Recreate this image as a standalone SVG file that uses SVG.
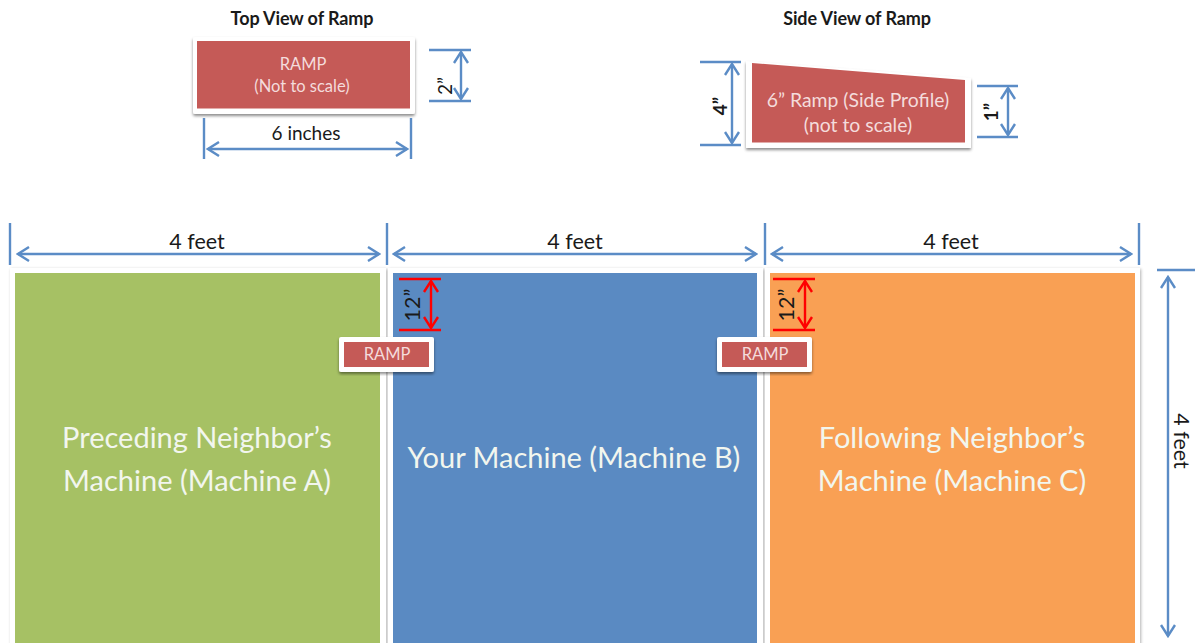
<svg xmlns="http://www.w3.org/2000/svg" width="1195" height="643" viewBox="0 0 1195 643">
<style>
text{font-family:Lato,"Open Sans","Liberation Sans",sans-serif;text-anchor:middle}
.t{font-size:18px;font-weight:700;fill:#1a1a1a;letter-spacing:-.1px}
.w{fill:#f4dcdc;font-size:16.500px}
.w2{fill:#f4dcdc;font-size:19.400px}
.m{fill:#f2f6ee;font-size:29px}
.d{fill:#1a1a1a;font-size:19px}
.e{fill:#1a1a1a;font-size:21.500px}
.b{font-weight:700}
.f{fill:#fff;filter:url(#s)}
.g{fill:#fff;filter:url(#l)}
.r{fill:#c55a57}
.c line,.c path{fill:none;stroke:#5b8cc6;stroke-width:2.4}
.c .red line,.c .red path{stroke:#f00}
</style>
<defs>
<filter id="s" x="-10%" y="-10%" width="120%" height="120%"><feDropShadow dx="0" dy="2" stdDeviation="1.800" flood-color="#000" flood-opacity=".45"/></filter>
<filter id="l" x="-5%" y="-5%" width="110%" height="110%"><feDropShadow dx="1" dy="1" stdDeviation="1.500" flood-color="#000" flood-opacity=".3"/></filter>
<marker id="a" viewBox="0 0 16 16" refX="14" refY="8" markerWidth="16" markerHeight="16" markerUnits="userSpaceOnUse" orient="auto-start-reverse"><path d="M3 1L14 8L3 15" fill="none" stroke="#5b8cc6" stroke-width="2.4"/></marker>
<marker id="ar" viewBox="0 0 16 16" refX="14" refY="8" markerWidth="16" markerHeight="16" markerUnits="userSpaceOnUse" orient="auto-start-reverse"><path d="M3 1L14 8L3 15" fill="none" stroke="#f00" stroke-width="2.4"/></marker>
</defs>
<rect width="1195" height="643" fill="#fff"/>
<g id="machine-a"><rect class="g" x="10" y="268" width="376" height="380"/><rect x="15" y="273" width="365" height="370" fill="#a6c164"/>
<text class="m" x="197" y="448">Preceding Neighbor’s</text><text class="m" x="197" y="491">Machine (Machine A)</text></g>
<g id="machine-b"><rect class="g" x="388" y="268" width="375" height="380"/><rect x="393" y="273" width="364" height="370" fill="#5a8ac2"/>
<text class="m" x="574" y="468">Your Machine (Machine B)</text></g>
<g id="machine-c"><rect class="g" x="765" y="268" width="375" height="380"/><rect x="770" y="273" width="365" height="370" fill="#f9a054"/>
<text class="m" x="952" y="448">Following Neighbor’s</text><text class="m" x="952" y="491">Machine (Machine C)</text></g>
<g id="ramp-top"><text class="t" x="302" y="25">Top View of Ramp</text><rect class="f" x="193" y="37" width="222" height="77" rx="2"/><rect class="r" x="197" y="41" width="213" height="67.500"/>
<text class="w" x="303" y="70">RAMP</text><text class="w" x="302" y="92">(Not to scale)</text></g>
<g id="ramp-side"><text class="t" x="857" y="25">Side View of Ramp</text><path class="f" d="M746 61L971 78V148H746Z"/><path class="r" d="M752 63L965 80V142.500H752Z"/>
<text class="w2" x="858" y="107">6” Ramp (Side Profile)</text><text class="w2" x="858" y="132">(not to scale)</text></g>
<g id="ramp-1"><rect class="f" x="339" y="337" width="95" height="35" rx="2"/><rect class="r" x="344" y="342" width="85" height="25"/><text class="w" x="387" y="360">RAMP</text></g>
<g id="ramp-2"><rect class="f" x="717" y="337" width="95" height="35" rx="2"/><rect class="r" x="722" y="342" width="85" height="25"/><text class="w" x="765" y="360">RAMP</text></g>
<g id="connectors" class="c">
<line x1="204" y1="118" x2="204" y2="159"/><line x1="411" y1="118" x2="411" y2="159"/><line x1="208" y1="149" x2="407" y2="149" marker-start="url(#a)" marker-end="url(#a)"/>
<line x1="429" y1="50" x2="471" y2="50"/><line x1="429" y1="101" x2="471" y2="101"/><line x1="461" y1="52" x2="461" y2="99" marker-start="url(#a)" marker-end="url(#a)"/>
<line x1="700" y1="62" x2="741" y2="62"/><line x1="700" y1="145" x2="741" y2="145"/><line x1="732" y1="64" x2="732" y2="143" marker-start="url(#a)" marker-end="url(#a)"/>
<line x1="977" y1="86" x2="1018" y2="86"/><line x1="977" y1="137" x2="1018" y2="137"/><line x1="1008" y1="88" x2="1008" y2="135" marker-start="url(#a)" marker-end="url(#a)"/>
<line x1="10" y1="223" x2="10" y2="265"/><line x1="387" y1="223" x2="387" y2="265"/><line x1="765" y1="223" x2="765" y2="265"/><line x1="1139" y1="223" x2="1139" y2="265"/>
<line x1="18" y1="254" x2="379" y2="254" marker-start="url(#a)" marker-end="url(#a)"/><line x1="394" y1="254" x2="756" y2="254" marker-start="url(#a)" marker-end="url(#a)"/><line x1="772" y1="254" x2="1131" y2="254" marker-start="url(#a)" marker-end="url(#a)"/>
<line x1="1157" y1="270" x2="1195" y2="270"/><line x1="1168" y1="277" x2="1168" y2="636" marker-start="url(#a)" marker-end="url(#a)"/>
<g class="red"><line x1="399" y1="279" x2="441" y2="279"/><line x1="399" y1="330" x2="441" y2="330"/><line x1="431" y1="281" x2="431" y2="328" marker-start="url(#ar)" marker-end="url(#ar)"/>
<line x1="773" y1="279" x2="815" y2="279"/><line x1="773" y1="330" x2="815" y2="330"/><line x1="805" y1="281" x2="805" y2="328" marker-start="url(#ar)" marker-end="url(#ar)"/></g>
</g>
<g id="labels">
<text class="d" x="306" y="140">6 inches</text>
<text class="e" x="197" y="249">4 feet</text><text class="e" x="575" y="249">4 feet</text><text class="e" x="951" y="249">4 feet</text>
<text class="e" transform="translate(1174 441) rotate(90)">4 feet</text>
<text class="d" transform="translate(452 86) rotate(-90)">2”</text>
<text class="d b" transform="translate(727 106) rotate(-90)">4”</text>
<text class="d b" transform="translate(998 112) rotate(-90)">1”</text>
<text class="e" transform="translate(420 305) rotate(-90)">12”</text>
<text class="e" transform="translate(794 305) rotate(-90)">12”</text>
</g>
</svg>
